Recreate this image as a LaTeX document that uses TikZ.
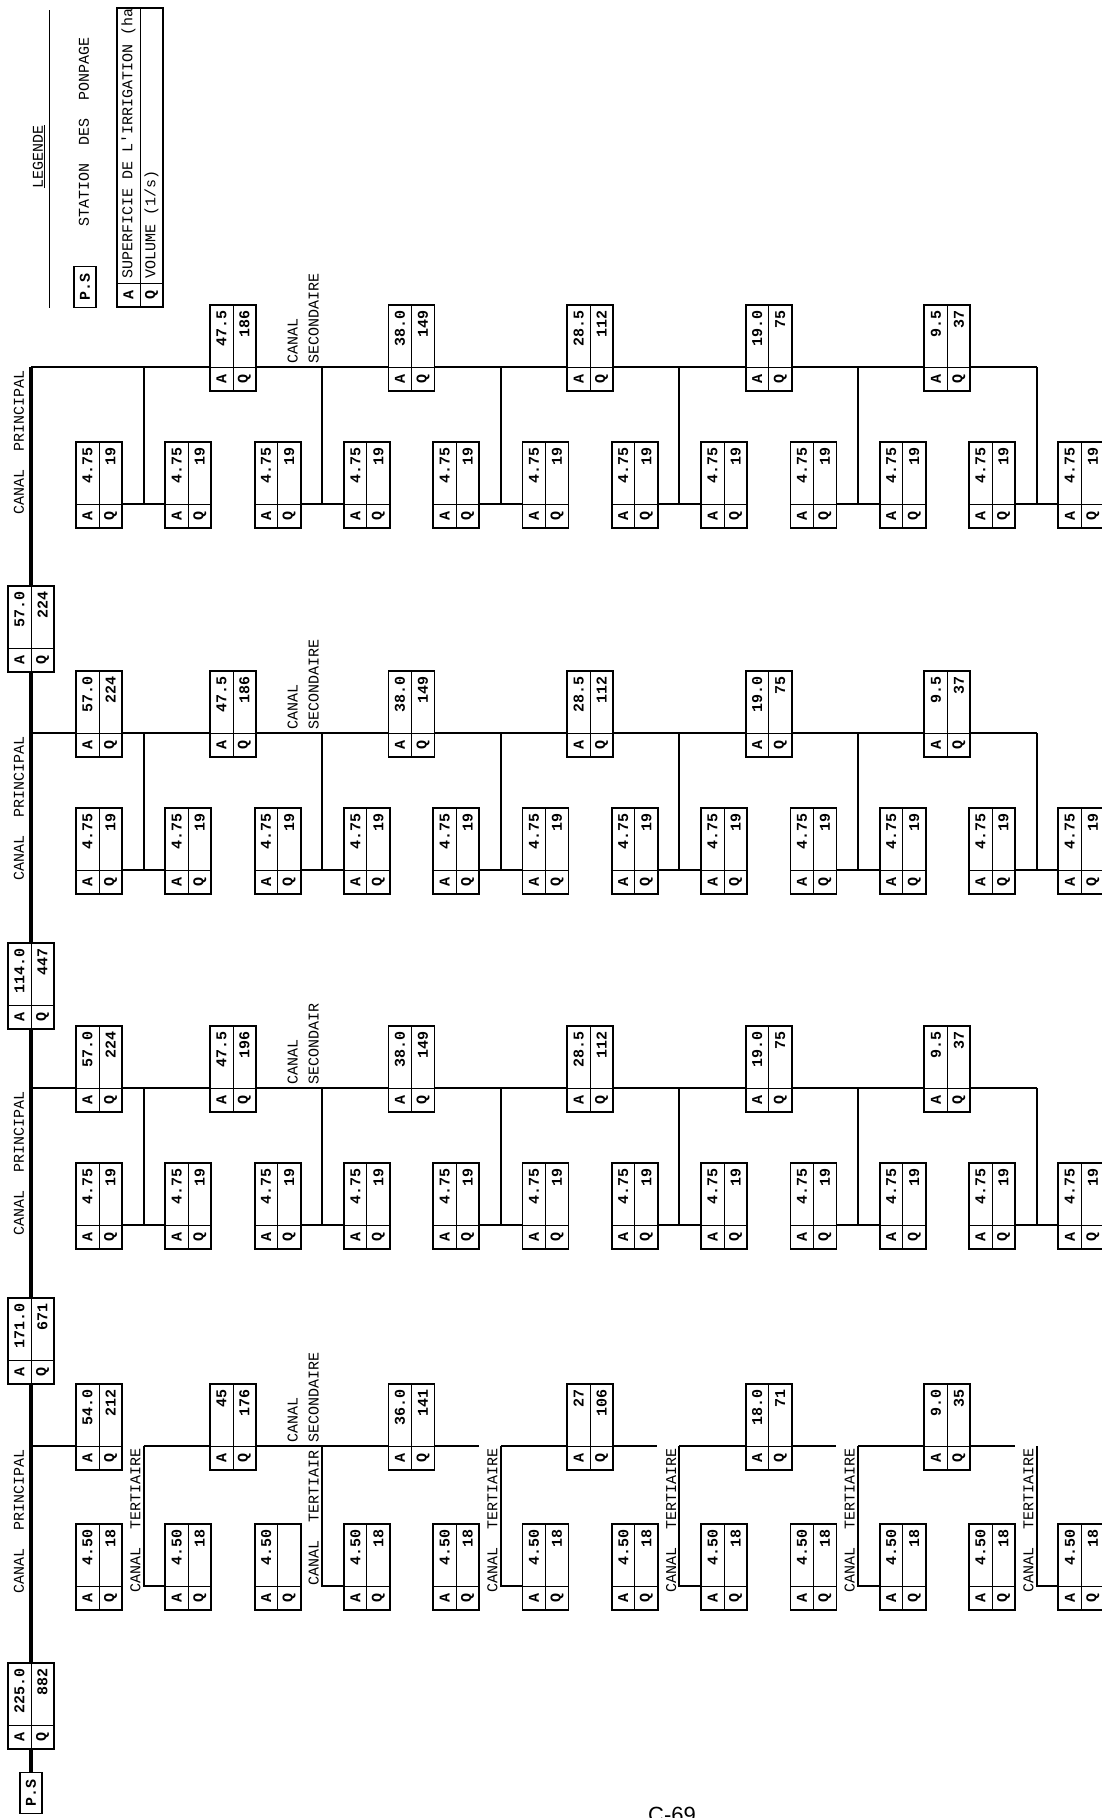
\documentclass[tikz,border=0pt]{standalone}
\usepackage{fontspec}
\setmonofont{Liberation Mono}
\setsansfont{Liberation Sans}
\usetikzlibrary{calc}
\tikzset{
  aqcell/.style={draw, line width=1.8pt, minimum width=46pt, minimum height=86pt, inner sep=0pt},
  cellrule/.style={line width=0.9pt},
  val/.style={rotate=90, inner sep=0pt, font=\fontsize{15}{17}\selectfont\ttfamily\bfseries},
  lbl/.style={rotate=90, inner sep=0pt, font=\fontsize{15}{21}\selectfont\ttfamily},
  psbox/.style={draw, rotate=90, line width=1.8pt, minimum width=41pt, minimum height=22pt, inner sep=0pt, font=\fontsize{15}{17}\selectfont\ttfamily\bfseries},
  princ/.style={line width=4.2pt},
  sec/.style={line width=2.6pt},
  tert/.style={line width=2pt},
}
% #1 name, #2 left, #3 top, #4 A value, #5 Q value
\newcommand{\aqbox}[5]{%
  \node[aqcell] (#1) at ({#2+23},{#3+43}) {};
  \coordinate (#1-w) at ({#2},{#3+62});
  \coordinate (#1-e) at ({#2+46},{#3+62});
  \draw[cellrule] (#1.north) -- (#1.south);
  \draw[cellrule] (#1-w) -- (#1-e);
  \node[val, anchor=east] (#1-a) at ({#2+11.5},{#3+5}) {#4};
  \node[val, anchor=east] (#1-q) at ({#2+34.5},{#3+5}) {#5};
  \node[val] (#1-la) at ({#2+11.5},{#3+74}) {A};
  \node[val] (#1-lq) at ({#2+34.5},{#3+74}) {Q};
}
\begin{document}
\begin{tikzpicture}[x=1pt, y=-1pt]
  \path[use as bounding box, fill=white] (0,0) rectangle (1101,1818);

  % legende
  \node[lbl, anchor=east] (leg) at (39,125) {\underline{LEGENDE}};
  \draw[cellrule] (49,10) -- (49,308);
  \node[psbox] (lps) at (85,287) {P.S};
  \node[lbl, anchor=west] (lst) at (84,227) {STATION~~DES~~PONPAGE};
  \node[draw, line width=1.8pt, minimum width=46pt, minimum height=299pt, inner sep=0pt] (legtab) at (140,157.5) {};
  \coordinate (legtab-w) at (117,283);
  \coordinate (legtab-e) at (163,283);
  \draw[cellrule] (legtab.north) -- (legtab.south);
  \draw[cellrule] (legtab-w) -- (legtab-e);
  \node[val] (legtab-la) at (128.5,295) {A};
  \node[val] (legtab-lq) at (151.5,295) {Q};
  \begin{scope}
    \clip (117,8) rectangle (163,307);
    \node[lbl, anchor=west] (legtab-a) at (128.5,279) {SUPERFICIE DE L'IRRIGATION (ha)};
  \end{scope}
  \node[lbl, anchor=west] (legtab-q) at (151.5,279) {VOLUME (1/s)};

  % canal principal
  \node[psbox] (ps) at (31,1793) {P.S};
  \aqbox{m225}{8}{1663}{225.0}{882}
  \aqbox{m171}{8}{1298}{171.0}{671}
  \aqbox{m114}{8}{943}{114.0}{447}
  \aqbox{m57}{8}{586}{57.0}{224}
  \coordinate (c1) at (31,1446);
  \coordinate (c2) at (31,1088);
  \coordinate (c3) at (31,733);
  \coordinate (c4) at (31,367);
  \draw[princ] (ps.east) -- (m225.south);
  \draw[princ] (m225.north) -- (m171.south);
  \draw[princ] (m171.north) -- (m114.south);
  \draw[princ] (m114.north) -- (m57.south);
  \draw[princ] (m57.north) -- (c4);
  \foreach \br/\ly in {1/1446, 2/1088, 3/733, 4/367}
    \node[lbl, anchor=east] (cp\br) at (19,{\ly+3}) {CANAL~~PRINCIPAL};

  % secondaires 2-4
  \foreach \br/\ly/\qone/\sname in {2/1088/196/SECONDAIR, 3/733/186/SECONDAIRE, 4/367/186/SECONDAIRE} {
    \foreach \kk in {0,...,11} {\aqbox{t\br-\kk}{76+89.3*\kk}{\ly+75}{4.75}{19}}
    \foreach \cc/\av/\qv in {1/47.5/\qone, 2/38.0/149, 3/28.5/112, 4/19.0/75, 5/9.5/37} {\aqbox{s\br-\cc}{76+178.6*\cc-44.65}{\ly-62}{\av}{\qv}}
    \foreach \cc in {1,...,6} {
      \coordinate (j\br-\cc) at ({143.6+178.6*(\cc-1)},\ly);
      \coordinate (j\br-\cc-t) at ({143.6+178.6*(\cc-1)},{\ly+137});
    }
    \node[lbl, anchor=south west, align=left] (cs\br) at (319,{\ly-3}) {CANAL\\\sname};
    \foreach \cc [evaluate=\cc as \nx using int(\cc+1)] in {1,...,4}
      \draw[sec] (s\br-\cc-e) -- (s\br-\nx-w);
    \draw[sec] (s\br-5-e) -- (j\br-6);
    \foreach \cc [evaluate=\cc as \kl using int(2*\cc-2), evaluate=\cc as \kr using int(2*\cc-1)] in {1,...,6} {
      \draw[tert] (j\br-\cc) -- (j\br-\cc-t);
      \draw[tert] (t\br-\kl-e) -- (t\br-\kr-w);
    }
  }
  \foreach \br/\ly in {2/1088, 3/733} {
    \aqbox{s\br-0}{76}{\ly-62}{57.0}{224}
    \draw[sec] (c\br) -- (s\br-0-w);
    \draw[sec] (s\br-0-e) -- (s\br-1-w);
  }
  \draw[sec] (c4) -- (s4-1-w);

  % secondaire 1
  \foreach \kk in {0,1,3,4,5,6,7,8,9,10,11} {\aqbox{t1-\kk}{76+89.3*\kk}{1524}{4.50}{18}}
  \aqbox{t1-2}{254.6}{1524}{4.50}{}
  \aqbox{s1-0}{76}{1384}{54.0}{212}
  \foreach \cc/\av/\qv in {1/45/176, 2/36.0/141, 3/27/106, 4/18.0/71, 5/9.0/35} {\aqbox{s1-\cc}{76+178.6*\cc-44.65}{1384}{\av}{\qv}}
  \foreach \cc in {1,...,6} {
    \coordinate (j1-\cc) at ({143.6+178.6*(\cc-1)},1446);
    \coordinate (j1-\cc-t) at ({143.6+178.6*(\cc-1)},1586);
    \coordinate (j1-\cc-s) at ({121.6+178.6*(\cc-1)},1446);
  }
  \draw[sec] (c1) -- (s1-0-w);
  \draw[sec] (j1-1) -- (s1-1-w);
  \draw[sec] (s1-1-e) -- (s1-2-w);
  \foreach \cc [evaluate=\cc as \pv using int(\cc-1)] in {3,4,5} {
    \draw[sec] (s1-\pv-e) -- (j1-\cc-s);
    \draw[sec] (j1-\cc) -- (s1-\cc-w);
  }
  \draw[sec] (s1-5-e) -- (j1-6-s);
  \foreach \cc/\kr in {1/1, 2/3, 3/5, 4/7, 5/9, 6/11}
    \draw[tert] (j1-\cc) -- (j1-\cc-t) -- (t1-\kr-w);
  \node[lbl, anchor=south west, align=left] (cs1) at (319,1443) {CANAL\\SECONDAIRE};
  \node[lbl, anchor=south east] (ct1-2) at (319,1450) {CANAL~~TERTIAIR};
  \foreach \cc in {1,3,4,5,6}
    \node[lbl, anchor=south east] (ct1-\cc) at ({140.6+178.6*(\cc-1)},1448) {CANAL~~TERTIAIRE};

  \node[font=\fontsize{22}{24}\selectfont\sffamily] (pg) at (672,1815) {C-69};
\end{tikzpicture}
\end{document}
